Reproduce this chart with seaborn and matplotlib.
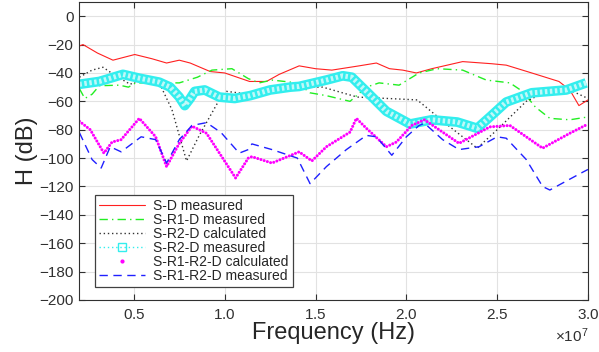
import numpy as np
import pandas as pd
import matplotlib
matplotlib.use("Agg")
import matplotlib.pyplot as plt
import seaborn as sns
from matplotlib.lines import Line2D
from matplotlib.ticker import ScalarFormatter

# ---- data (frequency in units of 1e7 Hz, H in dB) ----
sd_x = [0.20, 0.22, 0.30, 0.385, 0.505, 0.60, 0.68, 0.75, 0.81, 0.92, 1.00, 1.137, 1.23, 1.30, 1.41,
        1.50, 1.59, 1.74, 1.835, 1.907, 1.98, 2.055, 2.14, 2.31, 2.47, 2.55, 2.69, 2.84, 2.90, 2.95, 3.00]
sd_y = [-21, -20, -26, -31, -27, -30, -33, -31, -33, -39, -40, -46, -46, -41, -35,
        -37, -38, -35, -33, -37, -38, -40, -37, -32, -33.5, -34.5, -40, -46, -52, -63, -59]

sr1d_x = [0.20, 0.23, 0.27, 0.31, 0.42, 0.47, 0.51, 0.60, 0.75, 0.85, 0.93, 1.04, 1.13, 1.19, 1.26,
          1.40, 1.47, 1.56, 1.69, 1.78, 1.85, 1.96, 2.07, 2.17, 2.31, 2.44, 2.57, 2.64, 2.71, 2.79, 2.90, 3.00]
sr1d_y = [-51, -58, -55, -49, -48.6, -50, -47, -47, -47, -43, -38, -37, -44, -47, -45,
          -47, -54, -56, -60, -50, -47, -48.6, -40, -37, -38, -45, -47, -53, -64, -72, -73, -71]

sr2d_calc_x = [0.20, 0.27, 0.33, 0.40, 0.48, 0.57, 0.64, 0.71, 0.79, 0.86, 0.97, 1.01, 1.14, 1.25,
               1.40, 1.54, 1.73, 1.90, 2.06, 2.24, 2.39, 2.50, 2.66, 2.79, 2.90, 3.00]
sr2d_calc_y = [-43, -38, -36, -42, -48, -42, -47, -66, -102, -84, -59, -53, -55, -52,
               -50, -50, -57, -58, -59, -78, -93, -80, -60, -52, -52, -58]

sr2d_meas_x = [0.20, 0.31, 0.44, 0.53, 0.64, 0.70, 0.75, 0.78, 0.81, 0.835, 0.89, 0.97, 1.055, 1.14,
               1.25, 1.36, 1.41, 1.56, 1.65, 1.70, 1.78, 1.89, 2.02, 2.14, 2.28, 2.39, 2.46, 2.55,
               2.69, 2.88, 2.99]
sr2d_meas_y = [-48, -46, -41, -43.7, -46.5, -50, -57, -63, -58, -53, -52, -57, -58, -56,
               -52, -50, -49.5, -45, -42, -43, -53, -67, -76, -73, -74.6, -79, -71, -60.5,
               -54, -52, -47]

sr1r2d_calc_x = [0.20, 0.26, 0.335, 0.38, 0.43, 0.53, 0.62, 0.68, 0.75, 0.82, 0.90, 1.06, 1.13, 1.15,
                 1.26, 1.41, 1.48, 1.56, 1.69, 1.725, 1.78, 1.81, 1.89, 1.945, 2.03, 2.10, 2.29,
                 2.46, 2.57, 2.75, 2.90, 3.00]
sr1r2d_calc_y = [-74, -80, -96.5, -88.7, -87, -72, -85, -106, -89.6, -77.5, -82.5, -114, -100, -99,
                 -103.5, -95.6, -102, -92, -81.7, -72, -79, -82.5, -92, -88.7, -77, -73, -89.6,
                 -78, -77, -93, -82.5, -76]

sr1r2d_meas_x = [0.20, 0.27, 0.32, 0.37, 0.43, 0.54, 0.62, 0.68, 0.75, 0.82, 0.90, 0.98, 1.08, 1.13,
                 1.15, 1.26, 1.40, 1.47, 1.56, 1.67, 1.78, 1.835, 1.92, 2.00, 2.07, 2.10, 2.20,
                 2.29, 2.40, 2.50, 2.55, 2.66, 2.75, 2.79, 2.86, 2.97, 3.00]
sr1r2d_meas_y = [-82, -101, -107, -92, -95.6, -85, -87, -103.5, -87, -77, -75, -82, -96.5, -94,
                 -90, -94, -100, -118, -106, -94, -84, -85, -98, -85, -77, -75.5, -87,
                 -94, -92, -85, -86, -101, -120, -122.5, -117.6, -110, -108]

labels = ["S-D measured", "S-R1-D measured", "S-R2-D calculated", "S-R2-D measured",
          "S-R1-R2-D calculated", "S-R1-R2-D measured"]
xticks = [0.5, 1.0, 1.5, 2.0, 2.5, 3.0]
yticks = list(range(-200, 1, 20))
SCALE = 1e7

# ---- style ----
sns.set_style("ticks")
plt.rcParams["font.family"] = ["Liberation Sans", "DejaVu Sans"]
plt.rcParams["mathtext.fontset"] = "custom"
plt.rcParams["mathtext.rm"] = "Liberation Sans"

fig = plt.figure(figsize=(5.99, 3.52), dpi=100)
ax = fig.add_axes([79 / 599, 52 / 352, 509 / 599, 298 / 352])

def hz(v):
    return np.asarray(v, dtype=float) * SCALE

def draw(x, y, **kw):
    df = pd.DataFrame({"f": hz(x), "h": np.asarray(y, dtype=float)})
    sns.lineplot(data=df, x="f", y="h", ax=ax, estimator=None, sort=False, legend=False, **kw)

draw(sd_x, sd_y, color="#ff2020", lw=0.8)
draw(sr1d_x, sr1d_y, color="#22ee22", lw=1.0, linestyle=(0, (6, 3, 1, 3)))
draw(sr2d_calc_x, sr2d_calc_y, color="#333333", lw=1.0, linestyle=(0, (1, 2)))
draw(sr2d_meas_x, sr2d_meas_y, color="#33eeee", lw=7.0, solid_capstyle="butt")
draw(sr2d_meas_x, sr2d_meas_y, color="#c0f8f8", lw=3.6, linestyle=(0, (0.5, 0.5)))
draw(sr1r2d_calc_x, sr1r2d_calc_y, color="#ff00ff", lw=2.2, linestyle=(0, (0.001, 1.1)),
     dash_capstyle="round")
draw(sr1r2d_meas_x, sr1r2d_meas_y, color="#2020ff", lw=1.0, linestyle=(0, (6, 4)))

ax.set_xlim(hz(0.198), hz(3.0))
ax.set_ylim(-200, 10)
ax.set_xticks(hz(xticks))
ax.set_yticks(yticks)
fmt = ScalarFormatter(useMathText=True)
fmt.set_powerlimits((0, 0))
ax.xaxis.set_major_formatter(fmt)
ax.xaxis.get_offset_text().set_fontsize(11)
ax.xaxis.get_offset_text().set_color("#404040")

ax.grid(True, color="#e2e2e2", lw=0.8)
ax.set_axisbelow(True)
for s in ax.spines.values():
    s.set_color("#303030")
    s.set_linewidth(0.8)
    s.set_visible(True)
ax.tick_params(direction="in", top=True, right=True, length=4, width=0.8,
               labelsize=11, colors="#303030", labelcolor="#303030")
ax.tick_params(axis="y", pad=4)
ax.tick_params(axis="x", pad=6)

ax.set_xlabel("Frequency (Hz)", fontsize=17, color="#262626", labelpad=0)
ax.set_ylabel("H (dB)", fontsize=17, color="#262626", labelpad=1)

handles = [
    Line2D([], [], color="#ff2020", lw=0.8),
    Line2D([], [], color="#22ee22", lw=1.0, linestyle=(0, (6, 3, 1, 3))),
    Line2D([], [], color="#333333", lw=1.0, linestyle=(0, (1, 2))),
    Line2D([], [], color="#33eeee", lw=1.0, linestyle=(0, (1, 2)), marker="s",
           markerfacecolor="none", markeredgecolor="#33eeee", markersize=6),
    Line2D([], [], color="#ff00ff", linestyle="none", marker=".", markersize=4),
    Line2D([], [], color="#2020ff", lw=1.0, linestyle=(0, (6, 4))),
]
leg = ax.legend(handles, labels, loc="upper left", bbox_to_anchor=(0.031, 0.352),
                borderaxespad=0, fontsize=10, handlelength=3.3, labelspacing=0.0,
                handletextpad=0.6, borderpad=0.3, numpoints=1, fancybox=False,
                framealpha=1, edgecolor="#404040")
leg.get_frame().set_linewidth(0.9)
for t in leg.get_texts():
    t.set_color("#262626")

fig.savefig("out.png", dpi=100)
